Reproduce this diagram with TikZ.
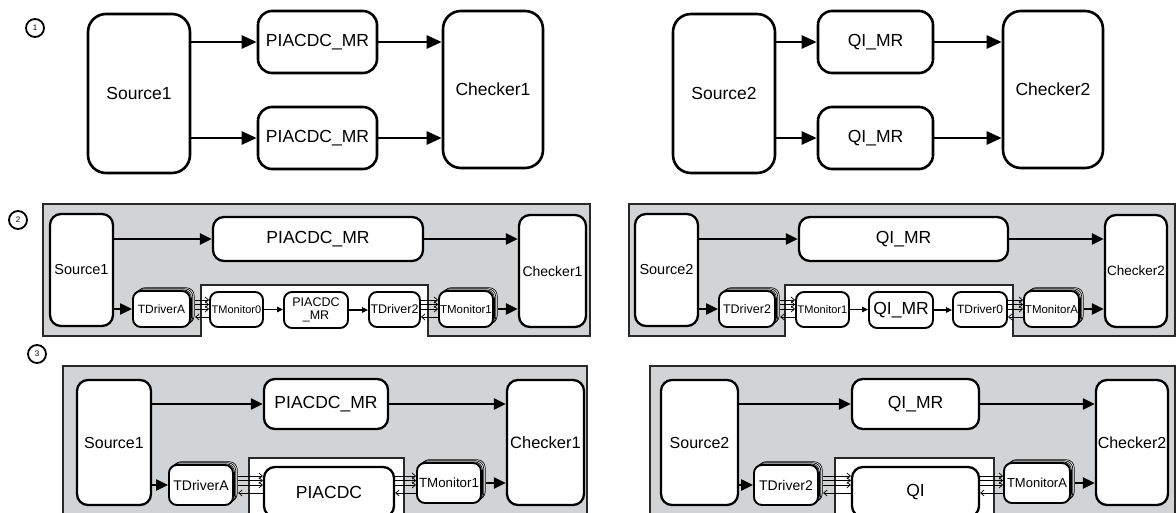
\documentclass[tikz,border=0pt]{standalone}
\usepackage{fontspec}
\setmainfont{Liberation Sans}
\usetikzlibrary{arrows.meta,calc}
\definecolor{panel}{RGB}{209,211,212}
\definecolor{edge}{RGB}{40,40,40}
\newcommand\fs[1]{\fontsize{#1}{#1}\selectfont}
\newcommand\stackbox[7]{%
  \foreach \i in {3,2,1}{\node[backbox, minimum width=#3, minimum height=#4] at ($(#1,#2)+(1.4*\i,-1.1*\i)$) {};}
  \node[sml, minimum width=#3, minimum height=#4, font=\fs{#6}] (#5) at (#1,#2) {#7};}
\newcommand\multiarr[4]{%
  \foreach \dy in {-9,-4.5,0}{\draw[marr] ($(#1.east |- #4)+(#3,\dy)$) -- ($(#2.west |- #4)+(0,\dy)$);}
  \draw[marr] ($(#2.west |- #4)+(0,8)$) -- ($(#1.east |- #4)+(#3,8)$);}
\begin{document}
\begin{tikzpicture}[x=1pt,y=-1pt,
  bigone/.style={draw, fill=white, line width=2.6, rounded corners=18, inner sep=0, font=\fs{17.5}},
  midone/.style={draw, fill=white, line width=2.6, rounded corners=14, inner sep=0, font=\fs{17.5}},
  arrone/.style={line width=2.6, -{Triangle[length=15pt,width=13pt]}},
  blk/.style={draw, fill=white, line width=2.3, rounded corners=11, inner sep=0},
  sml/.style={draw, fill=white, line width=1.9, rounded corners=8, inner sep=0},
  backbox/.style={draw, fill=white, line width=0.7, rounded corners=8, inner sep=0},
  arrtwo/.style={line width=2.3, -{Triangle[length=12pt,width=11pt]}},
  tarr/.style={line width=1.1, -{Triangle[length=6pt,width=5.5pt]}},
  marr/.style={line width=0.7, -{Straight Barb[length=3.5pt,width=6pt]}},
  panelst/.style={fill=panel, draw=edge, line width=2},
  num/.style={circle, draw, line width=1.8, minimum size=18, inner sep=0, font=\fs{8}}]
\useasboundingbox (0,0) rectangle (1176,513);
\clip (0,0) rectangle (1176,513);

% ---------------- row 1 ----------------
\node[num] (n1) at (35,28) {1};
\node[bigone, minimum width=102, minimum height=159] (s1) at (139,93.5) {Source1};
\node[midone, minimum width=119, minimum height=62] (p1a) at (317.5,42) {PIACDC\_MR};
\node[midone, minimum width=119, minimum height=62] (p1b) at (317.5,138) {PIACDC\_MR};
\node[bigone, minimum width=100, minimum height=157] (c1) at (493,89.5) {Checker1};
\draw[arrone] (s1.east |- p1a.west) -- (p1a.west);
\draw[arrone] (s1.east |- p1b.west) -- (p1b.west);
\draw[arrone] (p1a.east) -- (p1a.east -| c1.west);
\draw[arrone] (p1b.east) -- (p1b.east -| c1.west);

\node[bigone, minimum width=102, minimum height=159] (s2) at (724,93.5) {Source2};
\node[midone, minimum width=115, minimum height=62] (q1a) at (875.5,42) {QI\_MR};
\node[midone, minimum width=115, minimum height=62] (q1b) at (875.5,138) {QI\_MR};
\node[bigone, minimum width=100, minimum height=157] (c2) at (1053,89.5) {Checker2};
\draw[arrone] (s2.east |- q1a.west) -- (q1a.west);
\draw[arrone] (s2.east |- q1b.west) -- (q1b.west);
\draw[arrone] (q1a.east) -- (q1a.east -| c2.west);
\draw[arrone] (q1b.east) -- (q1b.east -| c2.west);

% ---------------- row 2 ----------------
\node[num] (n2) at (18,220) {2};
\draw[panelst] (43,204) -- (590,204) -- (590,336) -- (428,336) -- (428,285) -- (201,285) -- (201,336) -- (43,336) -- cycle;
\node[blk, minimum width=63, minimum height=112, font=\fs{14.5}] (s1b) at (81.5,270) {Source1};
\node[blk, minimum width=210, minimum height=44, font=\fs{17.5}] (pb) at (318,239) {PIACDC\_MR};
\node[blk, minimum width=67, minimum height=112, font=\fs{14}] (c1b) at (552.5,271) {Checker1};
\stackbox{161.5}{309}{57}{36}{tda}{12}{TDriverA}
\node[sml, minimum width=53, minimum height=35, font=\fs{11}] (tm0) at (236.5,309.5) {TMonitor0};
\node[sml, minimum width=64, minimum height=36, font=\fs{12.5}, align=center] (pm) at (316,310) {PIACDC\\\_MR};
\node[sml, minimum width=51, minimum height=35, font=\fs{12.5}] (td2) at (394.5,309.5) {TDriver2};
\stackbox{466}{309}{54}{36}{tmone}{11.5}{TMonitor1}
\draw[arrtwo] (s1b.east |- pb.west) -- (pb.west);
\draw[arrtwo] (pb.east) -- (pb.east -| c1b.west);
\draw[arrtwo] (s1b.east |- tda.west) -- (tda.west);
\draw[arrtwo] ($(tmone.east)+(4.2,0)$) -- (tmone.east -| c1b.west);
\draw[tarr] (tm0.east) -- (tm0.east -| pm.west);
\draw[tarr] (pm.east) -- (pm.east -| td2.west);
\multiarr{tda}{tm0}{4.2}{tda}
\multiarr{td2}{tmone}{0}{tmone}

\draw[panelst] (629,204) -- (1175,204) -- (1175,336) -- (1013,336) -- (1013,285) -- (785,285) -- (785,336) -- (629,336) -- cycle;
\node[blk, minimum width=63, minimum height=112, font=\fs{14.5}] (s2b) at (666.5,270) {Source2};
\node[blk, minimum width=209, minimum height=44, font=\fs{17.5}] (qb) at (903.5,239) {QI\_MR};
\node[blk, minimum width=62, minimum height=112, font=\fs{13.5}] (c2b) at (1136,271) {Checker2};
\stackbox{747}{309}{56}{36}{tdtwor}{12.5}{TDriver2}
\node[sml, minimum width=53, minimum height=35, font=\fs{11}] (tmoner) at (822.5,309.5) {TMonitor1};
\node[sml, minimum width=64, minimum height=36, font=\fs{17.5}] (qs) at (901,310) {QI\_MR};
\node[sml, minimum width=54, minimum height=35, font=\fs{12}] (tdz) at (980,309.5) {TDriver0};
\stackbox{1051.5}{309}{55}{36}{tma}{11.5}{TMonitorA}
\draw[arrtwo] (s2b.east |- qb.west) -- (qb.west);
\draw[arrtwo] (qb.east) -- (qb.east -| c2b.west);
\draw[arrtwo] (s2b.east |- tdtwor.west) -- (tdtwor.west);
\draw[arrtwo] ($(tma.east)+(4.2,0)$) -- (tma.east -| c2b.west);
\draw[tarr] (tmoner.east) -- (tmoner.east -| qs.west);
\draw[tarr] (qs.east) -- (qs.east -| tdz.west);
\multiarr{tdtwor}{tmoner}{4.2}{tdtwor}
\multiarr{tdz}{tma}{0}{tma}

% ---------------- row 3 ----------------
\node[num] (n3) at (37,354) {3};
\draw[panelst] (63,366) -- (587,366) -- (587,530) -- (404,530) -- (404,458) -- (249,458) -- (249,530) -- (63,530) -- cycle;
\node[blk, minimum width=74, minimum height=125, font=\fs{16}] (s1c) at (114,442.5) {Source1};
\node[blk, minimum width=124, minimum height=50, font=\fs{17.5}] (pc) at (326,404) {PIACDC\_MR};
\node[blk, minimum width=77, minimum height=125, font=\fs{16.5}] (c1c) at (545.5,442.5) {Checker1};
\stackbox{201}{485}{64}{40}{tdac}{14}{TDriverA}
\node[blk, minimum width=130, minimum height=50, font=\fs{17.5}] (pia) at (329,492) {PIACDC};
\stackbox{449}{483}{64}{40}{tmonec}{13.3}{TMonitor1}
\draw[arrtwo] (s1c.east |- pc.west) -- (pc.west);
\draw[arrtwo] (pc.east) -- (pc.east -| c1c.west);
\draw[arrtwo] (s1c.east |- tdac.west) -- (tdac.west);
\draw[arrtwo] ($(tmonec.east)+(4.2,0)$) -- (tmonec.east -| c1c.west);
\multiarr{tdac}{pia}{4.2}{tdac}
\multiarr{pia}{tmonec}{0}{tdac}

\draw[panelst] (650,366) -- (1175,366) -- (1175,530) -- (994,530) -- (994,458) -- (835,458) -- (835,530) -- (650,530) -- cycle;
\node[blk, minimum width=77, minimum height=125, font=\fs{16}] (s2c) at (699.5,442.5) {Source2};
\node[blk, minimum width=127, minimum height=50, font=\fs{17.5}] (qc) at (915.5,404) {QI\_MR};
\node[blk, minimum width=72, minimum height=125, font=\fs{16}] (c2c) at (1132,442.5) {Checker2};
\stackbox{786}{485}{64}{40}{tdtwoc}{14}{TDriver2}
\node[blk, minimum width=127, minimum height=50, font=\fs{17.5}] (qi) at (915.5,492) {QI};
\stackbox{1037}{483}{66}{40}{tmac}{13}{TMonitorA}
\draw[arrtwo] (s2c.east |- qc.west) -- (qc.west);
\draw[arrtwo] (qc.east) -- (qc.east -| c2c.west);
\draw[arrtwo] (s2c.east |- tdtwoc.west) -- (tdtwoc.west);
\draw[arrtwo] ($(tmac.east)+(4.2,0)$) -- (tmac.east -| c2c.west);
\multiarr{tdtwoc}{qi}{4.2}{tdtwoc}
\multiarr{qi}{tmac}{0}{tdtwoc}
\end{tikzpicture}
\end{document}
